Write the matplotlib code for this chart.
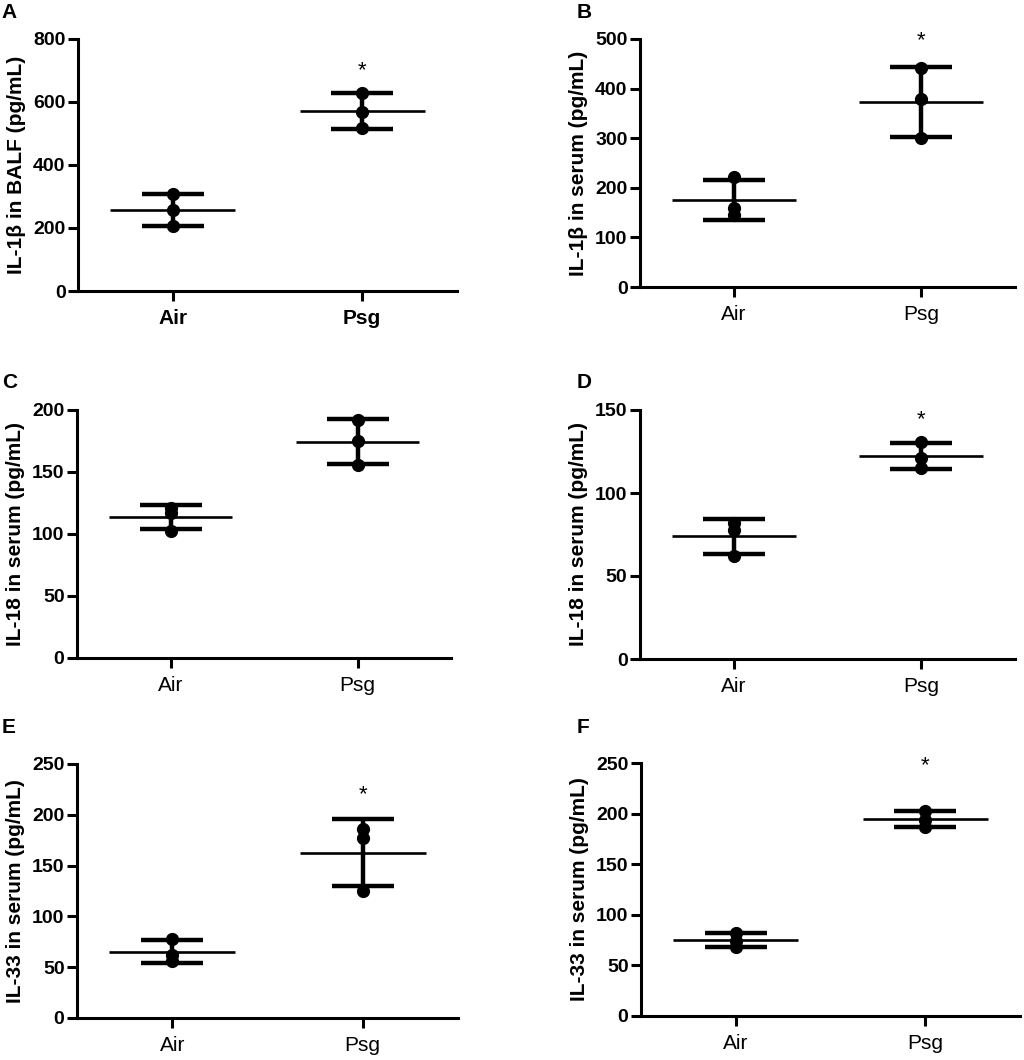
import numpy as np
import matplotlib
matplotlib.use('Agg')
import matplotlib.pyplot as plt

plt.rcParams['font.family'] = ['Liberation Sans', 'DejaVu Sans']

groups = ['Air', 'Psg']

# individual values (3 animals per group)
a_air = [307, 258, 206]
a_psg = [630, 567, 518]
b_air = [221, 160, 146]
b_psg = [441, 380, 300]
c_air = [121, 117, 102.5]
c_psg = [192, 175, 156]
d_air = [82, 77.5, 62]
d_psg = [131, 121, 115]
e_air = [77.7, 62.3, 55.7]
e_psg = [186, 177, 125]
f_air = [82, 74.3, 68.4]
f_psg = [203, 194, 187]

ylabels = ['IL-1β in BALF (pg/mL)', 'IL-1β in serum (pg/mL)',
           'IL-18 in serum (pg/mL)', 'IL-18 in serum (pg/mL)',
           'IL-33 in serum (pg/mL)', 'IL-33 in serum (pg/mL)']
ymaxes = [800, 500, 200, 150, 250, 250]
ysteps = [200, 100, 50, 50, 50, 50]
star_y = [698, 496, None, 144, 220, 247]
letters = ['A', 'B', 'C', 'D', 'E', 'F']

panels = [(a_air, a_psg), (b_air, b_psg), (c_air, c_psg),
          (d_air, d_psg), (e_air, e_psg), (f_air, f_psg)]

W, H = 1024, 1060
# axes boxes in pixels: left, right, top, bottom
boxes = [(78, 457, 39, 291), (640, 1015, 39, 287),
         (77, 451, 410, 658), (640, 1015, 410, 659),
         (77, 458, 764, 1018), (641, 1020, 763, 1016)]
letter_pos = [(1, 3), (577, 3), (2, 373), (577, 373), (2, 718), (577, 718)]

fig = plt.figure(figsize=(W / 100, H / 100), dpi=100)

for i, (air, psg) in enumerate(panels):
    l, r, t, b = boxes[i]
    ax = fig.add_axes([l / W, 1 - b / H, (r - l) / W, (b - t) / H])
    for x, vals in enumerate([air, psg]):
        m = np.mean(vals)
        sd = np.std(vals, ddof=1)
        ax.hlines(m, x - 0.33, x + 0.33, color='black', lw=1.9, zorder=3)
        ax.errorbar(x, m, yerr=sd, fmt='none', ecolor='black', elinewidth=3.2,
                    capsize=22, capthick=3.2, zorder=2)
        ax.plot([x] * len(vals), vals, 'o', color='black', ms=8.5, zorder=4)
    if star_y[i] is not None:
        ax.text(1, star_y[i], '*', ha='center', va='center', fontsize=16)

    ax.set_xlim(-0.5, 1.5)
    ax.set_ylim(0, ymaxes[i])
    ax.set_yticks(np.arange(0, ymaxes[i] + 1, ysteps[i]))
    ax.set_xticks([0, 1])
    ax.set_xticklabels(groups, fontsize=15,
                       fontweight='bold' if i == 0 else 'normal')
    for lab in ax.get_yticklabels():
        lab.set_fontweight('bold')
        lab.set_fontsize(14)
    ax.set_ylabel(ylabels[i], fontsize=15, fontweight='bold', labelpad=5)
    ax.spines['top'].set_visible(False)
    ax.spines['right'].set_visible(False)
    ax.spines['left'].set_linewidth(2.2)
    ax.spines['bottom'].set_linewidth(2.2)
    ax.tick_params(axis='both', width=2.2, length=7, pad=2, colors='black')
    ax.tick_params(axis='x', pad=6)

    lx, ly = letter_pos[i]
    fig.text(lx / W, 1 - ly / H, letters[i], fontsize=15, fontweight='bold',
             ha='left', va='top')

fig.savefig('out.png', dpi=100)
